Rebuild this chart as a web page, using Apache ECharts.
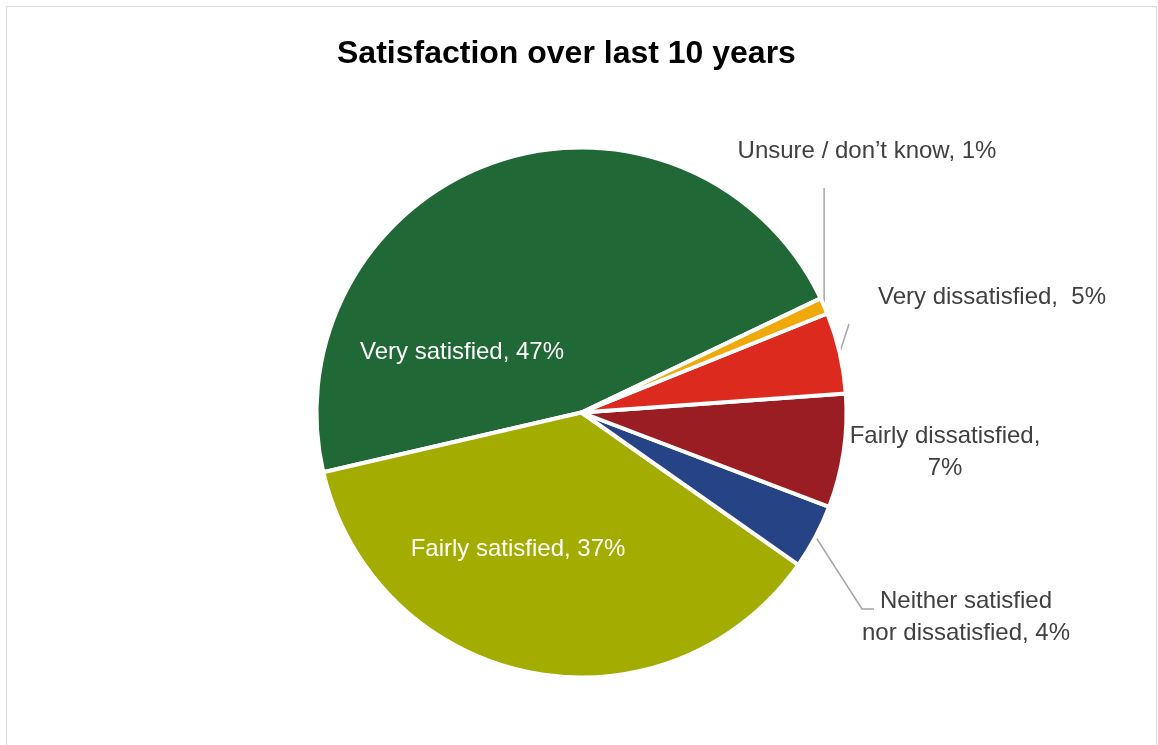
<!DOCTYPE html>
<html>
<head>
<meta charset="utf-8">
<title>Satisfaction over last 10 years</title>
<script src="https://cdn.jsdelivr.net/npm/echarts@6/dist/echarts.min.js"></script>
<style>
  html, body { margin: 0; padding: 0; background: #ffffff; }
  #chart { width: 1158px; height: 745px; }
</style>
</head>
<body>
<div id="chart"></div>
<script>
// Survey answers, drawn counter-clockwise from the upper-right edge of the pie
const categories = [
  'Very satisfied',
  'Fairly satisfied',
  'Neither satisfied\nnor dissatisfied',
  'Fairly dissatisfied',
  'Very dissatisfied',
  'Unsure / don\u2019t know'
];
const percentages = [47, 37, 4, 7, 5, 1];
const labelJoiners = [', ', ', ', ', ', ',\n', ',  ', ', '];

const sliceColors = ['#206836', '#a3ac00', '#264485', '#9a1d23', '#dc2a1e', '#efa90a'];

// Where each label sits, and the bend points of its leader line
const labelSpots = [
  { x: 462, y: 352 },
  { x: 518, y: 549 },
  { x: 966, y: 617, line: [[862, 609], [874, 609]] },
  { x: 945, y: 452 },
  { x: 992, y: 297, line: [[849, 324]] },
  { x: 867, y: 151, lineTop: 188 }
];
const insideLabels = [true, true, false, false, false, false];
const showLines = [false, false, true, false, true, true];

const FONT = "'Liberation Sans', Arial, sans-serif";

const pieData = categories.map((name, i) => ({
  name: name,
  value: percentages[i],
  itemStyle: { color: sliceColors[i] },
  label: {
    position: insideLabels[i] ? 'inside' : 'outside',
    color: insideLabels[i] ? '#ffffff' : '#404040'
  },
  labelLine: { show: showLines[i] }
}));

const chart = echarts.init(document.getElementById('chart'), null, { renderer: 'canvas' });

chart.setOption({
  backgroundColor: '#ffffff',
  animation: false,
  title: {
    text: 'Satisfaction over last 10 years',
    left: 337,
    top: 38,
    padding: 0,
    textStyle: {
      fontFamily: FONT,
      fontWeight: 'bold',
      fontSize: 32,
      color: '#000000'
    }
  },
  graphic: [{
    type: 'rect',
    silent: true,
    shape: { x: 6.5, y: 6.5, width: 1150, height: 800 },
    style: { fill: 'none', stroke: '#d9d9d9', lineWidth: 1 }
  }],
  series: [{
    type: 'pie',
    center: [581.5, 412.5],
    radius: 265,
    startAngle: 25.5,
    clockwise: false,
    avoidLabelOverlap: false,
    emphasis: { disabled: true },
    itemStyle: { borderColor: '#ffffff', borderWidth: 4 },
    label: {
      fontFamily: FONT,
      fontSize: 24,
      lineHeight: 32,
      align: 'center',
      formatter: (p) => p.name + labelJoiners[p.dataIndex] + p.value + '%'
    },
    labelLine: {
      length: 20,
      length2: 10,
      lineStyle: { color: '#a6a6a6', width: 1.5 }
    },
    labelLayout: (params) => {
      const spot = labelSpots[params.dataIndex];
      const out = { x: spot.x, y: spot.y, align: 'center', verticalAlign: 'middle' };
      const pts = params.labelLinePoints;
      if (pts && pts.length) {
        const start = pts[0];
        if (spot.line) {
          out.labelLinePoints = [start].concat(spot.line);
        } else if (spot.lineTop !== undefined) {
          out.labelLinePoints = [start, [start[0], spot.lineTop]];
        }
      }
      return out;
    },
    data: pieData
  }]
});
</script>
</body>
</html>
